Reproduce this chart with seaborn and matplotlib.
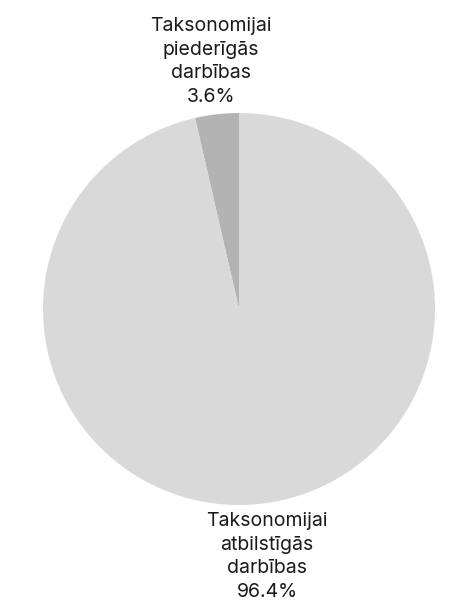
import matplotlib
matplotlib.use("Agg")
import matplotlib.pyplot as plt
import seaborn as sns

labels = ["Taksonomijai\npiederīgās\ndarbības", "Taksonomijai\natbilstīgās\ndarbības"]
shares = [3.6, 96.4]
colors = ["#b3b3b3", "#d9d9d9"]

sns.set_style("white")
plt.rcParams["font.family"] = ["Inter", "DejaVu Sans"]

fig = plt.figure(figsize=(4.54, 6.05), dpi=100)
ax = fig.add_axes([43 / 454, 100 / 605, 392 / 454, 392 / 605])

wedges, texts, autotexts = ax.pie(
    shares,
    labels=labels,
    colors=colors,
    startangle=90,
    counterclock=True,
    labeldistance=1.27,
    autopct="%.1f%%",
    pctdistance=1.27,
    wedgeprops={"linewidth": 0},
)

# merge label and percent into one centered block
for t, a in zip(texts, autotexts):
    t.set_text(t.get_text() + "\n" + a.get_text())
    t.set_horizontalalignment("center")
    t.set_verticalalignment("center")
    t.set_multialignment("center")
    t.set_fontsize(14)
    t.set_linespacing(1.4)
    t.set_color("#1a1a1a")
    a.set_visible(False)

ax.set_xlim(-1, 1)
ax.set_ylim(-1, 1)
ax.set_aspect("equal")
ax.axis("off")

fig.savefig("out.png", dpi=100)
